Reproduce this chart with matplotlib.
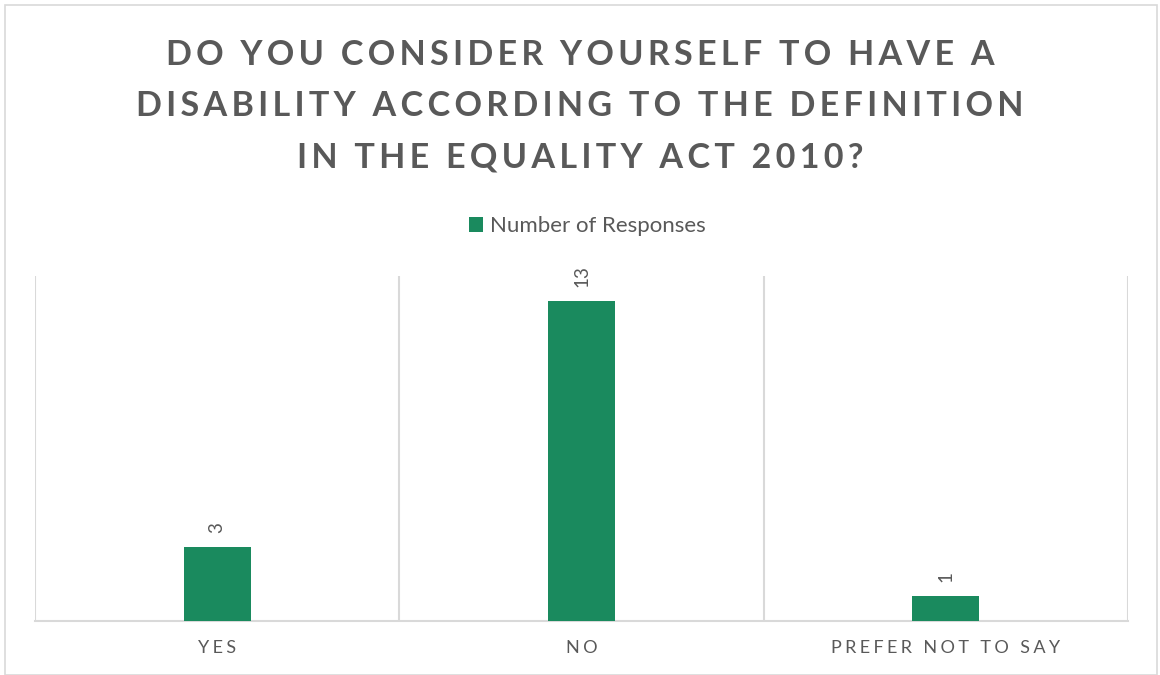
import matplotlib
matplotlib.use("Agg")
import matplotlib.pyplot as plt
from matplotlib.patches import Rectangle

# data
categories = ["YES", "NO", "PREFER NOT TO SAY"]
responses = [3, 13, 1]
series_name = "Number of Responses"
title_lines = ["DO YOU CONSIDER YOURSELF TO HAVE A",
               "DISABILITY ACCORDING TO THE DEFINITION",
               "IN THE EQUALITY ACT 2010?"]

green = "#1a8a5e"
grey = "#595959"
line_c = "#d9d9d9"

plt.rcParams['font.family'] = ['Lato', 'DejaVu Sans']

def spaced(s, sep="\u2009"):
    # fake letter spacing
    return sep.join(s)

fig = plt.figure(figsize=(11.6, 6.75), dpi=100)
fig.patches.append(Rectangle((5/1160, 0), 1152/1160, 670/675, transform=fig.transFigure,
                             fill=False, edgecolor=line_c, linewidth=1.2))

ax = fig.add_axes([35/1160, 54/675, 1093/1160, 345/675])
x = list(range(len(categories)))
ax.bar(x, responses, width=0.184, color=green, label=series_name, zorder=3)
ax.set_xlim(-0.5, len(categories) - 0.5)
ax.set_ylim(0, 14)

for xi, v in zip(x, responses):
    ax.annotate(str(v), (xi, v), xytext=(0, 10), textcoords="offset points",
                ha="center", va="bottom", rotation=90, fontsize=13.5, color=grey)

# category separators
for b in [i - 0.5 for i in range(len(categories) + 1)]:
    ax.axvline(b, color=line_c, linewidth=1.5, zorder=1)

for s in ["top", "right", "left"]:
    ax.spines[s].set_visible(False)
ax.spines["bottom"].set_color(line_c)
ax.spines["bottom"].set_linewidth(1.5)
ax.set_yticks([])
ax.set_xticks(x)
ax.set_xticklabels([spaced(c, "\u2009\u200a") for c in categories], fontsize=13, color=grey)
ax.tick_params(axis="x", length=0, pad=14)

ax.legend(loc="lower center", bbox_to_anchor=(0.505, 1.058), frameon=False, fontsize=16,
          labelcolor=grey, handlelength=0.65, handleheight=0.65, handletextpad=0.3)

for i, line in enumerate(title_lines):
    fig.text(0.5, 1 - (55 + 51 * i) / 675, spaced(line), ha="center", va="center",
             fontsize=24.6, fontweight="bold", color=grey)

fig.savefig("out.png", dpi=100)
